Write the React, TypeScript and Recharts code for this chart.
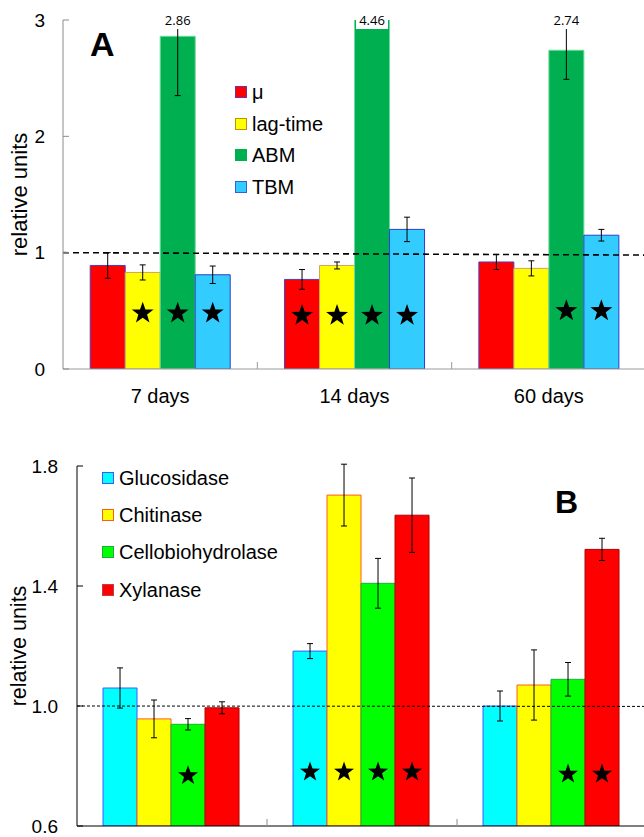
import React from "react";
import {
  BarChart,
  Bar,
  XAxis,
  YAxis,
  ErrorBar,
  LabelList,
  Legend,
  ReferenceLine,
} from "recharts";

const SANS = '"Liberation Sans", Arial, sans-serif';
const SOFT = '"Open Sans", "Liberation Sans", sans-serif';

// ---- panel A: growth parameters, relative to control ----
const days = ["7 days", "14 days", "60 days"];
const muValues = [0.89, 0.77, 0.92];
const muErrors = [0.11, 0.085, 0.065];
const lagValues = [0.83, 0.89, 0.865];
const lagErrors = [0.065, 0.03, 0.065];
const abmValues = [2.86, 4.46, 2.74];
const abmErrors = [0.51, 0, 0.25];
const tbmValues = [0.81, 1.2, 1.15];
const tbmErrors = [0.075, 0.105, 0.05];
const muStars = [false, true, false];
const lagStars = [true, true, false];
const abmStars = [true, true, true];
const tbmStars = [true, true, true];
const starLevelA = [0.48, 0.46, 0.5];
const ticksA = [0, 1, 2, 3];
const refLineA = [
  { x: 0, y: 1.0 },
  { x: 2.88, y: 0.97 },
];

// ---- panel B: enzyme activities, relative to control ----
const groupsB = ["7 days", "14 days", "60 days"];
const glucValues = [1.06, 1.183, 1.0];
const glucErrors = [0.067, 0.025, 0.05];
const chitValues = [0.957, 1.703, 1.07];
const chitErrors = [0.063, 0.103, 0.117];
const cellValues = [0.939, 1.409, 1.089];
const cellErrors = [0.019, 0.083, 0.056];
const xylValues = [0.994, 1.636, 1.522];
const xylErrors = [0.02, 0.124, 0.037];
const glucStars = [false, true, false];
const chitStars = [false, true, false];
const cellStars = [true, true, true];
const xylStars = [false, true, true];
const starLevelB = [0.768, 0.78, 0.773];
const ticksB = [0.6, 1.0, 1.4, 1.8];
const refLineB = [
  { x: 0, y: 1.0 },
  { x: 2.86, y: 0.998 },
];

const dataA = days.map((day, i) => ({
  day,
  mu: muValues[i],
  muErr: muErrors[i],
  lag: lagValues[i],
  lagErr: lagErrors[i],
  abm: abmValues[i],
  abmErr: abmErrors[i],
  tbm: tbmValues[i],
  tbmErr: tbmErrors[i],
}));

const dataB = groupsB.map((group, i) => ({
  group,
  gluc: glucValues[i],
  glucErr: glucErrors[i],
  chit: chitValues[i],
  chitErr: chitErrors[i],
  cell: cellValues[i],
  cellErr: cellErrors[i],
  xyl: xylValues[i],
  xylErr: xylErrors[i],
}));

const seriesA = [
  { key: "mu", name: "μ", fill: "#FF0000", stroke: "#4b3cc8", swatch: "#7030A0", stars: muStars },
  { key: "lag", name: "lag-time", fill: "#FFFF00", stroke: "#d4a060", swatch: "#C09000", stars: lagStars },
  { key: "abm", name: "ABM", fill: "#00B050", stroke: "#6fd89a", swatch: "", stars: abmStars },
  { key: "tbm", name: "TBM", fill: "#33CCFF", stroke: "#2a3fd0", swatch: "#3060E0", stars: tbmStars },
];

const seriesB = [
  { key: "gluc", name: "Glucosidase", fill: "#00FFFF", stroke: "#3a5cff", swatch: "#3a5cff", stars: glucStars },
  { key: "chit", name: "Chitinase", fill: "#FFFF00", stroke: "#ff5a1f", swatch: "#ff5a1f", stars: chitStars },
  { key: "cell", name: "Cellobiohydrolase", fill: "#00FF00", stroke: "#1fae3a", swatch: "#1fae3a", stars: cellStars },
  { key: "xyl", name: "Xylanase", fill: "#FF0000", stroke: "#b00000", swatch: "#c04040", stars: xylStars },
];

const CHART_W = 650;
const A_H = 420;
const A_TOP = 20;
const A_LEFT = 63;
const A_RIGHT = 4;
const A_BAND = (CHART_W - A_LEFT - A_RIGHT) / days.length;
const B_H = 417;
const B_TOP = 46;
const B_LEFT = 77;
const B_RIGHT = 3;
const B_BAND = (CHART_W - B_LEFT - B_RIGHT) / groupsB.length;

function starPath(cx: number, cy: number, r: number) {
  const pts: string[] = [];
  for (let i = 0; i < 10; i++) {
    const rad = i % 2 === 0 ? r : r * 0.4;
    const a = -Math.PI / 2 + (i * Math.PI) / 5;
    pts.push(`${(cx + rad * Math.cos(a)).toFixed(2)},${(cy + rad * Math.sin(a)).toFixed(2)}`);
  }
  return `M${pts.join("L")}Z`;
}

const starContent =
  (flags: boolean[], levels: number[], base: number, r: number) => (props: any) => {
    const idx = props.index;
    if (!flags[idx]) return null;
    const vb = props.viewBox ?? props;
    const { x, y, width, height } = vb;
    const value = Number(props.value);
    const cy = y + height - (height * (levels[idx] - base)) / (value - base);
    return <path d={starPath(x + width / 2, cy, r)} fill="#000" />;
  };

const abmValueLabel = (props: any) => {
  const vb = props.viewBox ?? props;
  const { x, width } = vb;
  return (
    <g>
      <rect x={x + 1.5} y={0} width={width - 3} height={A_TOP + 9} fill="#fff" />
      <text
        x={x + width / 2}
        y={A_TOP}
        textAnchor="middle"
        dominantBaseline="central"
        fontSize={13}
        fontFamily={SOFT}
        fill="#000"
      >
        {Number(props.value).toFixed(2)}
      </text>
    </g>
  );
};

const yLabel = (size: number) => (props: any) => {
  const vb = props.viewBox ?? {};
  const cx = (vb.x ?? 0) + 19;
  const cy = (vb.y ?? 0) + (vb.height ?? 0) / 2;
  return (
    <text
      x={cx}
      y={cy}
      transform={`rotate(-90 ${cx} ${cy})`}
      textAnchor="middle"
      dominantBaseline="central"
      fontSize={size}
      fontFamily={SANS}
      fill="#000"
    >
      relative units
    </text>
  );
};

function BoundaryTick(props: any) {
  const { x, y, payload, index, band, color, showText } = props;
  return (
    <g>
      {index > 0 && (
        <line x1={x - band / 2} x2={x - band / 2} y1={y} y2={y - 7} stroke={color} strokeWidth={1} />
      )}
      {showText && (
        <text
          x={x}
          y={y + 27}
          textAnchor="middle"
          dominantBaseline="central"
          fontSize={20}
          fontFamily={SANS}
          fill="#000"
        >
          {payload.value}
        </text>
      )}
    </g>
  );
}

function LegendBox({ items, rowH, fontSize, font }: any) {
  return (
    <div style={{ fontFamily: font, fontSize, color: "#000", lineHeight: 1 }}>
      {items.map((it: any) => (
        <div key={it.key} style={{ display: "flex", alignItems: "center", height: rowH }}>
          <span
            style={{
              display: "inline-block",
              width: 12,
              height: 12,
              boxSizing: "border-box",
              background: it.fill,
              border: it.swatch ? `1.5px solid ${it.swatch}` : "none",
              marginRight: 5,
            }}
          />
          <span>{it.name}</span>
        </div>
      ))}
    </div>
  );
}

function PanelA() {
  return (
    <BarChart
      width={CHART_W}
      height={A_H}
      data={dataA}
      margin={{ top: A_TOP, right: A_RIGHT, left: 0, bottom: 0 }}
      barCategoryGap="14%"
      barGap={0}
    >
      <XAxis
        dataKey="day"
        height={51}
        interval={0}
        stroke="#9a9a9a"
        tickLine={false}
        tickSize={0}
        tickMargin={0}
        tick={(p: any) => <BoundaryTick {...p} band={A_BAND} color="#9a9a9a" showText />}
      />
      <XAxis
        xAxisId="num"
        type="number"
        domain={[0, 3]}
        allowDataOverflow
        height={0}
        axisLine={false}
        tickLine={false}
        tick={false}
      />
      <YAxis
        width={A_LEFT}
        domain={[0, 3]}
        ticks={ticksA}
        allowDataOverflow
        stroke="#8c8c8c"
        tickSize={-6}
        tickMargin={24}
        tick={{ fill: "#000", fontSize: 19, fontFamily: SANS }}
        label={{ value: "relative units", content: yLabel(22) }}
      />
      <Legend
        layout="vertical"
        align="center"
        verticalAlign="middle"
        wrapperStyle={{ left: 235, top: 76, width: "auto" }}
        content={() => <LegendBox items={seriesA} rowH={31.7} fontSize={20} font={SANS} />}
      />
      {seriesA.map((s) => (
        <Bar
          key={s.key}
          dataKey={s.key}
          name={s.name}
          fill={s.fill}
          stroke={s.stroke}
          strokeWidth={1}
          isAnimationActive={false}
        >
          <ErrorBar dataKey={`${s.key}Err`} width={3} stroke="#000" strokeWidth={1} />
          <LabelList dataKey={s.key} content={starContent(s.stars, starLevelA, 0, 11.5)} />
          {s.key === "abm" && <LabelList dataKey="abm" content={abmValueLabel} />}
        </Bar>
      ))}
      <ReferenceLine
        xAxisId="num"
        segment={refLineA}
        ifOverflow="visible"
        stroke="#000"
        strokeWidth={1.6}
        strokeDasharray="6 4"
      />
    </BarChart>
  );
}

function PanelB() {
  return (
    <BarChart
      width={CHART_W}
      height={B_H}
      data={dataB}
      margin={{ top: B_TOP, right: B_RIGHT, left: 0, bottom: 0 }}
      barCategoryGap="13.7%"
      barGap={0}
    >
      <XAxis
        dataKey="group"
        height={11}
        interval={0}
        stroke="#000"
        tickLine={false}
        tickSize={0}
        tickMargin={0}
        tick={(p: any) => <BoundaryTick {...p} band={B_BAND} color="#8c8c8c" showText={false} />}
      />
      <XAxis
        xAxisId="num"
        type="number"
        domain={[0, 3]}
        allowDataOverflow
        height={0}
        axisLine={false}
        tickLine={false}
        tick={false}
      />
      <YAxis
        width={B_LEFT}
        domain={[0.6, 1.8]}
        ticks={ticksB}
        allowDataOverflow
        stroke="#000"
        tickSize={-6}
        tickMargin={25}
        tickFormatter={(v: number) => v.toFixed(1)}
        tick={{ fill: "#000", fontSize: 19, fontFamily: SANS }}
        label={{ value: "relative units", content: yLabel(21.5) }}
      />
      <Legend
        layout="vertical"
        align="center"
        verticalAlign="middle"
        wrapperStyle={{ left: 102, top: 39, width: "auto" }}
        content={() => <LegendBox items={seriesB} rowH={37.3} fontSize={20} font={SANS} />}
      />
      {seriesB.map((s) => (
        <Bar
          key={s.key}
          dataKey={s.key}
          name={s.name}
          fill={s.fill}
          stroke={s.stroke}
          strokeWidth={1}
          isAnimationActive={false}
        >
          <ErrorBar dataKey={`${s.key}Err`} width={3} stroke="#000" strokeWidth={1} />
          <LabelList dataKey={s.key} content={starContent(s.stars, starLevelB, 0.6, 10.5)} />
        </Bar>
      ))}
      <ReferenceLine
        xAxisId="num"
        segment={refLineB}
        ifOverflow="visible"
        stroke="#000"
        strokeWidth={1}
        strokeDasharray="3 2"
      />
    </BarChart>
  );
}

export default function App() {
  return (
    <div
      style={{
        position: "absolute",
        left: 0,
        top: 0,
        width: 644,
        height: 837,
        overflow: "hidden",
        background: "#fff",
      }}
    >
      <div style={{ position: "absolute", left: 0, top: 0 }}>
        <PanelA />
      </div>
      <div style={{ position: "absolute", left: 0, top: 420 }}>
        <PanelB />
      </div>
      <div
        style={{
          position: "absolute",
          left: 90,
          top: 27,
          fontFamily: SANS,
          fontWeight: 700,
          fontSize: 34,
          lineHeight: "34px",
        }}
      >
        A
      </div>
      <div
        style={{
          position: "absolute",
          left: 555,
          top: 486,
          fontFamily: SANS,
          fontWeight: 700,
          fontSize: 32,
          lineHeight: "32px",
        }}
      >
        B
      </div>
    </div>
  );
}
